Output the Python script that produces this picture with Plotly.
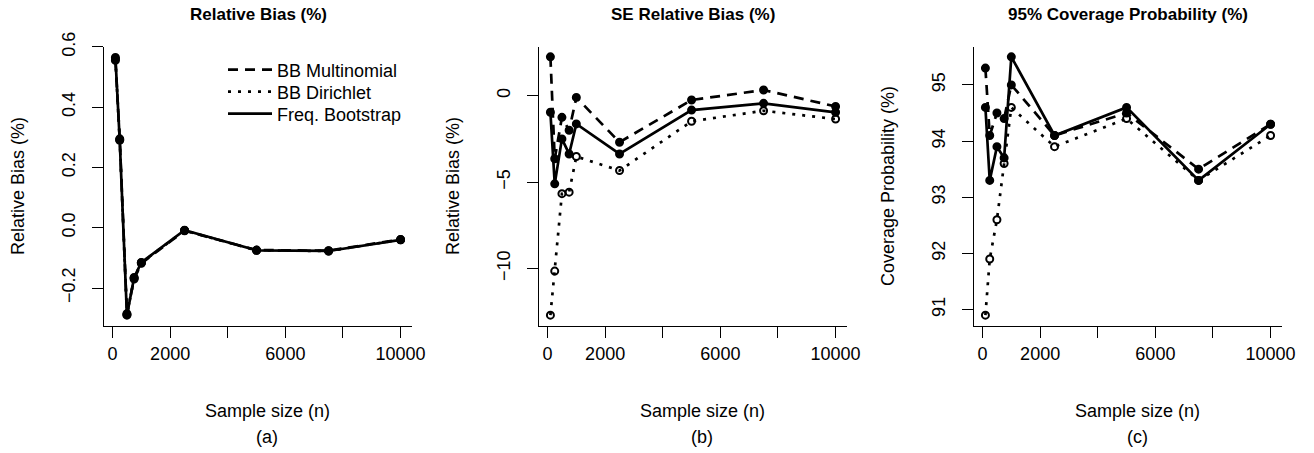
import plotly.graph_objects as go

# ---------------- data ----------------
sample_size = [100, 250, 500, 750, 1000, 2500, 5000, 7500, 10000]

series_names = ["BB Multinomial", "BB Dirichlet", "Freq. Bootstrap"]

# (a) Relative Bias (%)
rb_multinomial = [0.555, 0.295, -0.285, -0.170, -0.118, -0.010, -0.074, -0.076, -0.039]
rb_dirichlet   = [0.560, 0.292, -0.288, -0.167, -0.116, -0.009, -0.075, -0.077, -0.040]
rb_freq        = [0.565, 0.290, -0.290, -0.165, -0.115, -0.008, -0.075, -0.077, -0.040]

# (b) SE Relative Bias (%)
se_multinomial = [2.25, -3.65, -1.25, -2.00, -0.10, -2.69, -0.25, 0.33, -0.62]
se_dirichlet   = [-12.70, -10.15, -5.67, -5.58, -3.52, -4.33, -1.48, -0.87, -1.35]
se_freq        = [-0.96, -5.10, -2.50, -3.37, -1.63, -3.37, -0.83, -0.44, -0.96]

# (c) 95% Coverage Probability (%)
cp_multinomial = [95.3, 94.1, 94.5, 94.4, 95.0, 94.1, 94.5, 93.5, 94.3]
cp_dirichlet   = [90.9, 91.9, 92.6, 93.6, 94.6, 93.9, 94.4, 93.3, 94.1]
cp_freq        = [94.6, 93.3, 93.9, 93.7, 95.5, 94.1, 94.6, 93.3, 94.3]

panel_titles = ["Relative Bias (%)", "SE Relative Bias (%)", "95% Coverage Probability (%)"]
y_titles = ["Relative Bias (%)", "Relative Bias (%)", "Coverage Probability (%)"]
panel_tags = ["(a)", "(b)", "(c)"]

x_tickvals = [0, 2000, 4000, 6000, 8000, 10000]
x_ticktext = ["0", "2000", "", "6000", "", "10000"]
y_tickvals = [[-0.2, 0.0, 0.2, 0.4, 0.6], [-10, -5, 0], [91, 92, 93, 94, 95]]

# ---------------- layout constants ----------------
W, H = 1314, 453
FONT = "Liberation Sans, Arial, Helvetica, sans-serif"
FS = 18
panel_px = [(104, 412), (539, 847), (974, 1282)]
y_top_px, y_bot_px = 46.5, 325.5
ydom = [(H - y_bot_px) / H, (H - y_top_px) / H]

def r_range(vals, pad_top=0.0):
    lo, hi = min(vals), max(vals)
    ext = (hi - lo) * 0.04
    return [lo - ext, hi + ext + pad_top]

data_sets = [
    (rb_multinomial, rb_dirichlet, rb_freq),
    (se_multinomial, se_dirichlet, se_freq),
    (cp_multinomial, cp_dirichlet, cp_freq),
]

styles = {
    "BB Multinomial": dict(dash="10px,7px", symbol="circle", msize=7),
    "BB Dirichlet": dict(dash="3px,7px", symbol="circle-open", msize=7),
    "Freq. Bootstrap": dict(dash="solid", symbol="circle", msize=7),
}

fig = go.Figure()
annotations = []

for i, (ys, ptitle, ytitle, tag, ytv) in enumerate(
        zip(data_sets, panel_titles, y_titles, panel_tags, y_tickvals)):
    k = "" if i == 0 else str(i + 1)
    xa, ya = "x" + k, "y" + k
    for name, yvals in zip(series_names, ys):
        st = styles[name]
        fig.add_trace(go.Scatter(
            x=sample_size, y=yvals, mode="lines+markers", name=name,
            xaxis=xa, yaxis=ya, showlegend=False,
            line=dict(color="black", width=2.7, dash=st["dash"]),
            marker=dict(color="black", size=st["msize"], symbol=st["symbol"],
                        line=dict(color="black", width=2)),
        ))
    allv = [v for s in ys for v in s]
    x0, x1 = panel_px[i]
    xr = r_range(sample_size)
    yr = r_range(allv, pad_top=0.002 if i == 0 else 0.0)
    fig.update_layout(**{
        "xaxis" + k: dict(
            domain=[x0 / W, x1 / W], range=xr, anchor=ya, automargin=False,
            tickmode="array", tickvals=x_tickvals, ticktext=x_ticktext,
            showline=True, linecolor="black", linewidth=1.3, mirror=False,
            ticks="outside", ticklen=11, tickwidth=1.3, tickcolor="black",
            showgrid=False, zeroline=False, ticklabelstandoff=1,
            tickfont=dict(size=FS, color="black", family=FONT),
        ),
        "yaxis" + k: dict(
            domain=ydom, range=yr, anchor=xa, automargin=False,
            tickmode="array", tickvals=ytv,
            tickformat=".1f" if i == 0 else "d",
            showline=True, linecolor="black", linewidth=1.3, mirror=False,
            ticks="outside", ticklen=11, tickwidth=1.3, tickcolor="black",
            showgrid=False, zeroline=False, tickangle=-90, ticklabelstandoff=10,
            tickfont=dict(size=FS, color="black", family=FONT),
        ),
    })
    cx = (x0 + x1) / 2 / W
    cx_lab = ((x0 + x1) / 2 + 9) / W
    common = dict(xref="paper", yref="paper", showarrow=False,
                  xanchor="center", yanchor="middle")
    annotations.append(dict(text="<b>" + ptitle + "</b>", x=cx, y=(H - 14) / H,
                            font=dict(size=17, color="black", family=FONT), **common))
    annotations.append(dict(text="Sample size (n)", x=cx_lab, y=(H - 411) / H,
                            font=dict(size=FS, color="black", family=FONT), **common))
    annotations.append(dict(text=tag, x=cx_lab, y=(H - 437) / H,
                            font=dict(size=FS, color="black", family=FONT), **common))
    annotations.append(dict(text=ytitle, x=(x0 - 86) / W,
                            y=(H - (y_top_px + y_bot_px) / 2) / H, textangle=-90,
                            font=dict(size=FS, color="black", family=FONT), **common))

# legend-only traces (lines without markers), one legend per row
legend_rows_px = [70, 92, 114]
legend_layout = {}
for j, name in enumerate(series_names):
    st = styles[name]
    lname = "legend" if j == 0 else "legend" + str(j + 1)
    fig.add_trace(go.Scatter(
        x=[None], y=[None], mode="lines", name=name, xaxis="x", yaxis="y",
        legend=lname, showlegend=True,
        line=dict(color="black", width=2.7, dash=st["dash"]),
    ))
    legend_layout[lname] = dict(
        x=223 / W, y=(H - legend_rows_px[j]) / H, xanchor="left", yanchor="middle",
        bgcolor="rgba(0,0,0,0)", borderwidth=0,
        font=dict(size=FS, color="black", family=FONT),
        itemwidth=44,
    )

fig.update_layout(
    template="none",
    width=W, height=H,
    margin=dict(l=0, r=0, t=0, b=0, pad=0, autoexpand=False),
    paper_bgcolor="white", plot_bgcolor="white",
    font=dict(family=FONT, color="black"),
    annotations=annotations,
    showlegend=True,
    **legend_layout,
)

fig.write_html("out.html")
